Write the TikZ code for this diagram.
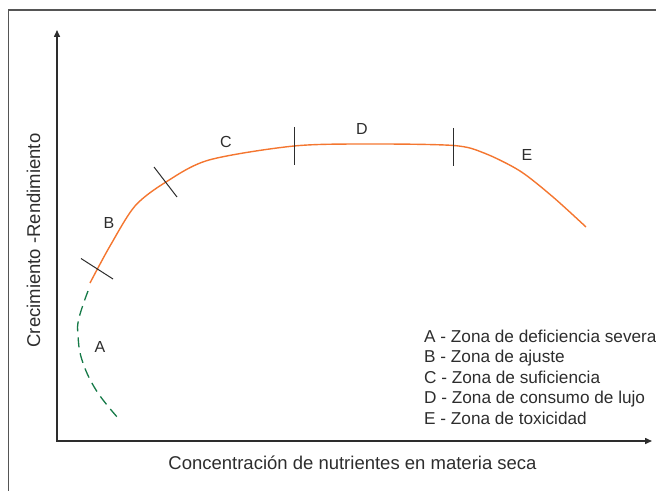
\documentclass[tikz,border=0pt]{standalone}
\usepackage{fontspec}
\setmainfont{Liberation Sans}
\usetikzlibrary{arrows.meta}
\definecolor{curveorange}{RGB}{244,118,48}
\definecolor{dashgreen}{RGB}{22,122,72}
\definecolor{axisgray}{RGB}{45,45,45}
\definecolor{framegray}{RGB}{85,85,85}
\tikzset{
  framestyle/.style={draw=framegray,line width=1.3bp},
  axisstyle/.style={draw=axisgray,line width=1.5bp,
    {Triangle[length=7bp,width=6bp]}-{Triangle[length=7bp,width=6bp]}},
  tickstyle/.style={draw=axisgray,line width=1bp},
  zonecurve/.style={draw=curveorange,line width=1.4bp},
  deficiency/.style={draw=dashgreen,line width=1.3bp,dash pattern=on 10bp off 6bp},
  zonelabel/.style={inner sep=0pt,font=\fontsize{16bp}{19bp}\selectfont,text=axisgray},
  legendtext/.style={inner sep=0pt,anchor=base west,font=\fontsize{17.2bp}{20bp}\selectfont,text=axisgray},
  axislabel/.style={inner sep=0pt,anchor=base,font=\fontsize{18.5bp}{22bp}\selectfont,text=axisgray}
}
\begin{document}
\begin{tikzpicture}[x=1bp,y=-1bp]
\useasboundingbox (0,0) rectangle (656,491);
% frame
\coordinate (fbl) at (8.5,491);
\coordinate (ftl) at (8.5,10);
\coordinate (ftr) at (656,10);
\draw[framestyle] (fbl) -- (ftl) -- (ftr);
% axes
\coordinate (ytip) at (57,30);
\coordinate (origin) at (57,441);
\coordinate (xtip) at (652,441);
\draw[axisstyle] (ytip) -- (origin) -- (xtip);
% curves
\draw[deficiency] plot[smooth,tension=0.7] coordinates {(88,291) (79,318) (78,335) (82,360) (96,390) (118,418)};
\draw[zonecurve] plot[smooth,tension=0.5] coordinates {(90,283) (110,246) (135,206) (166,182) (209,160) (294,146) (370,144) (453.5,145.5) (484,153) (520,171) (553,197) (586,227)};
% ticks
\coordinate (t1a) at (81,258.5); \coordinate (t1b) at (113,279);
\coordinate (t2a) at (154,167); \coordinate (t2b) at (177,197);
\coordinate (t3a) at (294,127); \coordinate (t3b) at (294,165);
\coordinate (t4a) at (453.7,128); \coordinate (t4b) at (453.7,166.5);
\draw[tickstyle] (t1a) -- (t1b);
\draw[tickstyle] (t2a) -- (t2b);
\draw[tickstyle] (t3a) -- (t3b);
\draw[tickstyle] (t4a) -- (t4b);
% zone labels
\node[zonelabel] (la) at (100,347) {A};
\node[zonelabel] (lb) at (109,223) {B};
\node[zonelabel] (lc) at (226,142) {C};
\node[zonelabel] (ld) at (362,129) {D};
\node[zonelabel] (le) at (527,155) {E};
% legend
\node[legendtext] (g1) at (424,342.2) {A - Zona de deficiencia severa};
\node[legendtext] (g2) at (424,362.7) {B - Zona de ajuste};
\node[legendtext] (g3) at (424,383.2) {C - Zona de suficiencia};
\node[legendtext] (g4) at (424,403.7) {D - Zona de consumo de lujo};
\node[legendtext] (g5) at (424,424.2) {E - Zona de toxicidad};
% axis labels
\node[axislabel] (xl) at (352.5,469.5) {Concentración de nutrientes en materia seca};
\node[axislabel,rotate=90] (yl) at (40.2,240.5) {Crecimiento -Rendimiento};
\end{tikzpicture}
\end{document}
